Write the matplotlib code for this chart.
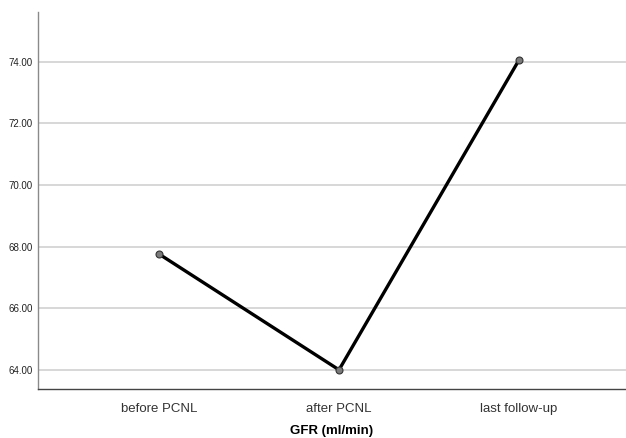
import matplotlib
matplotlib.use("Agg")
import matplotlib.pyplot as plt

plt.rcParams["font.family"] = ["Liberation Sans", "DejaVu Sans"]

categories = ["before PCNL", "after PCNL", "last follow-up"]
gfr_means = [67.76, 64.0, 74.06]
y_ticks = [64, 66, 68, 70, 72, 74]

fig = plt.figure(figsize=(6.26, 4.38), dpi=100)
ax = fig.add_axes([0.0607, 0.112, 0.9393, 0.861])

x = list(range(len(categories)))
ax.plot(x, gfr_means, color="black", linewidth=2.4, zorder=3,
        marker="o", markersize=5, markerfacecolor="#7a7a7a",
        markeredgecolor="#333333", markeredgewidth=0.8)

ax.set_xlim(-0.672, 2.594)
ax.set_ylim(63.38, 75.62)
ax.set_yticks(y_ticks)
ax.set_yticklabels([f"{v:.2f}" for v in y_ticks], fontsize=7, color="#222222")
ax.set_xticks(x)
ax.set_xticklabels(categories, fontsize=9.5, color="#333333")
ax.tick_params(axis="both", length=0, pad=4)
ax.tick_params(axis="x", pad=10)

ax.grid(axis="y", color="#d4d4d4", linewidth=1.3, zorder=0)
ax.set_axisbelow(True)
for s in ("top", "right"):
    ax.spines[s].set_visible(False)
ax.spines["left"].set_color("#8a8a8a")
ax.spines["bottom"].set_color("#444444")
ax.spines["left"].set_linewidth(1.0)
ax.spines["bottom"].set_linewidth(1.0)

ax.set_xlabel("GFR (ml/min)", fontsize=9.5, fontweight="bold", labelpad=7)

fig.savefig("out.png", dpi=100, facecolor="white")
